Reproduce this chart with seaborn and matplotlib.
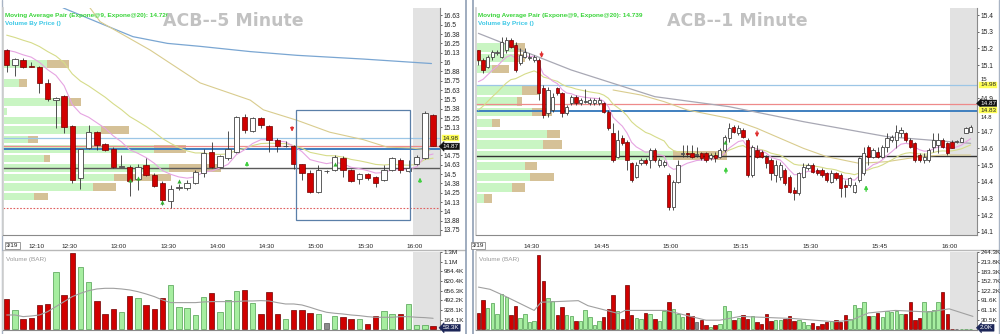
import numpy as np
import pandas as pd
import matplotlib
matplotlib.use("Agg")
import matplotlib.pyplot as plt
import matplotlib.transforms as mtransforms
from matplotlib.patches import Rectangle
from matplotlib.lines import Line2D
import seaborn as sns

# ======================= LEFT PANEL : ACB 5 minute =======================
L_open = [16.16, 15.96, 16.03, 15.945, 15.94, 15.72, 15.49, 15.54, 15.14, 14.44,
          14.85, 15.06, 14.90, 14.84, 14.60, 14.60, 14.43, 14.62, 14.49, 14.38,
          14.14, 14.31, 14.31, 14.38, 14.51, 14.80, 14.60, 14.71, 14.80, 15.27,
          15.08, 15.25, 15.14, 14.96, 14.87, 14.87, 14.63, 14.52, 14.26, 14.54,
          14.55, 14.72, 14.55, 14.43, 14.50, 14.46, 14.42, 14.55, 14.69, 14.54,
          14.64, 14.71, 15.29]
L_high = [16.17, 16.05, 16.05, 16.00, 15.95, 15.77, 15.53, 15.56, 15.15, 14.84,
          15.16, 15.08, 14.92, 14.86, 14.76, 14.62, 14.64, 14.72, 14.52, 14.40,
          14.35, 14.36, 14.42, 14.56, 14.84, 14.93, 14.76, 15.07, 15.28, 15.31,
          15.27, 15.27, 15.16, 14.98, 14.94, 14.89, 14.64, 14.55, 14.62, 14.56,
          14.75, 14.74, 14.57, 14.51, 14.51, 14.47, 14.62, 14.73, 14.71, 14.69,
          14.76, 15.34, 15.30]
L_low = [15.87, 15.81, 15.92, 15.94, 15.59, 15.48, 15.12, 15.05, 14.38, 14.30,
         14.83, 14.82, 14.81, 14.58, 14.60, 14.20, 14.29, 14.47, 14.32, 14.08,
         14.04, 14.28, 14.29, 14.36, 14.46, 14.58, 14.58, 14.69, 14.78, 15.05,
         15.06, 15.12, 14.80, 14.80, 14.86, 14.57, 14.42, 14.24, 14.24, 14.51,
         14.54, 14.46, 14.39, 14.36, 14.42, 14.33, 14.40, 14.54, 14.52, 14.53,
         14.62, 14.70, 14.87]
L_close = [15.96, 16.04, 15.94, 15.94, 15.72, 15.50, 15.52, 15.13, 14.42, 14.83,
           15.06, 14.89, 14.82, 14.60, 14.61, 14.40, 14.59, 14.49, 14.34, 14.15,
           14.30, 14.32, 14.38, 14.53, 14.78, 14.60, 14.74, 14.83, 15.27, 15.09,
           15.25, 15.16, 14.96, 14.88, 14.88, 14.63, 14.52, 14.26, 14.55, 14.54,
           14.73, 14.56, 14.40, 14.50, 14.44, 14.38, 14.55, 14.71, 14.55, 14.58,
           14.73, 15.32, 14.88]
L_volume_k = [509, 328, 170, 187, 419, 436, 973, 583, 1300, 1060,
              803, 487, 266, 345, 289, 566, 537, 419, 345, 526,
              753, 373, 356, 249, 543, 622, 294, 498, 651, 668,
              441, 260, 634, 260, 170, 328, 322, 271, 260, 102,
              226, 204, 170, 175, 96, 220, 311, 266, 266, 424,
              68, 68, 53.3]
L_volume_ma_k = [243, 243, 215, 226, 243, 300, 385, 470, 555, 611,
                 656, 685, 696, 696, 685, 668, 639, 600, 555, 498,
                 453, 453, 453, 453, 464, 470, 470, 470, 470, 481,
                 481, 487, 481, 453, 430, 430, 413, 373, 328, 289,
                 272, 260, 243, 232, 215, 204, 204, 204, 215, 215,
                 204, 198, 187]
L_ema9_start, L_ema20_start = 16.16, 16.36
L_slow1_x = [5, 7, 11.4, 15.4, 19.6, 23.6, 29.7, 35.4, 43.5, 51.8]
L_slow1_y = [16.84, 16.72, 16.52, 16.34, 16.25, 16.21, 16.14, 16.09, 16.04, 15.98]
L_slow2_x = [9.0, 10.2, 11.4, 17.5, 23.6, 29.7, 31.3, 35.4, 39.4, 43.5, 46.4, 49.2, 51.6]
L_slow2_y = [16.85, 16.72, 16.54, 16.16, 15.72, 15.49, 15.36, 15.22, 15.06, 14.96, 14.86, 14.85, 14.82]
L_vbp_price = [15.974, 15.721, 15.467, 15.341, 15.214, 15.088, 14.961, 14.834,
               14.708, 14.581, 14.454, 14.328, 14.201]
L_vbp_up = [43, 15, 65, 3, 62, 97, 24, 150, 40, 165, 110, 89, 30]
L_vbp_down = [22, 8, 12, 0, 0, 28, 10, 32, 6, 52, 57, 23, 14]
L_levels = [14.98, 14.87, 14.83, 14.585, 14.04]
L_box = (35.3, 13.89, 49.2, 15.36)
L_up_arrow_x, L_up_arrow_y = [29.3, 50.4], [14.64, 14.42]
L_dn_arrow_x, L_dn_arrow_y = [34.8], [15.10]
L_tri_x, L_tri_y = [15, 16, 19, 21, 40], [14.42, 14.44, 14.12, 14.41, 14.64]
L_price_ticks = [13.75, 13.875, 14.0, 14.125, 14.25, 14.375, 14.5, 14.625, 14.75,
                 15.125, 15.25, 15.375, 15.5, 15.625, 15.75, 15.875, 16.0, 16.125,
                 16.25, 16.375, 16.5, 16.625]
L_price_labels = ['13.75', '13.88', '14', '14.13', '14.25', '14.38', '14.5', '14.63',
                  '14.75', '15.13', '15.25', '15.38', '15.5', '15.63', '15.75', '15.88',
                  '16', '16.13', '16.25', '16.38', '16.5', '16.63']
L_price_tight = []            # labels squeezed next to price tags: (value, text, side)
L_vol_ticks = [164.1, 328.1, 492.2, 656.3, 820.4, 984.4, 1148.4, 1312.5]
L_vol_labels = ['164.1K', '328.1K', '492.2K', '656.3K', '820.4K', '984.4K', '1.1M', '1.3M']
L_time_bar = [4, 8, 14, 20, 26, 32, 38, 44, 50]
L_time_labels = ['12:10', '12:30', '13:00', '13:30', '14:00', '14:30', '15:00', '15:30', '16:00']
L_title = 'ACB--5 Minute'
L_legend = 'Moving Average Pair (Expone@9, Expone@20): 14.726'

# ======================= RIGHT PANEL : ACB 1 minute =======================
R_open = [15.19, 15.13, 15.09, 15.15, 15.17, 15.15, 15.19, 15.25, 15.22, 15.11,
          15.15, 15.14, 15.13, 15.13, 14.96, 14.81, 14.83, 14.96, 14.93, 14.81,
          14.87, 14.91, 14.87, 14.88, 14.87, 14.87, 14.87, 14.87, 14.82, 14.69,
          14.55, 14.66, 14.64, 14.51, 14.43, 14.51, 14.53, 14.53, 14.59, 14.50,
          14.50, 14.44, 14.25, 14.40, 14.565, 14.57, 14.57, 14.56, 14.57, 14.57,
          14.54, 14.56, 14.55, 14.59, 14.66, 14.73, 14.69, 14.71, 14.65, 14.44,
          14.59, 14.58, 14.55, 14.53, 14.44, 14.43, 14.47, 14.43, 14.35, 14.33,
          14.43, 14.48, 14.50, 14.47, 14.47, 14.45, 14.40, 14.45, 14.44, 14.38,
          14.38, 14.34, 14.41, 14.45, 14.61, 14.55, 14.58, 14.55, 14.61, 14.65,
          14.65, 14.69, 14.69, 14.65, 14.63, 14.56, 14.53, 14.53, 14.61, 14.62,
          14.65, 14.63, 14.64, 14.64, 14.64, 14.69, 14.70]
R_high = [15.19, 15.14, 15.16, 15.19, 15.19, 15.27, 15.27, 15.26, 15.24, 15.20,
          15.20, 15.17, 15.16, 15.14, 14.98, 14.97, 14.93, 14.97, 14.94, 14.86,
          14.92, 14.92, 14.90, 14.955, 14.90, 14.90, 14.91, 14.88, 14.83, 14.75,
          14.71, 14.68, 14.65, 14.52, 14.52, 14.54, 14.54, 14.60, 14.60, 14.54,
          14.53, 14.45, 14.41, 14.53, 14.62, 14.62, 14.62, 14.61, 14.58, 14.58,
          14.57, 14.58, 14.60, 14.68, 14.75, 14.74, 14.74, 14.72, 14.66, 14.62,
          14.62, 14.59, 14.56, 14.54, 14.53, 14.52, 14.48, 14.44, 14.37, 14.46,
          14.51, 14.51, 14.51, 14.48, 14.48, 14.46, 14.47, 14.46, 14.45, 14.41,
          14.43, 14.40, 14.55, 14.61, 14.62, 14.60, 14.61, 14.62, 14.69, 14.68,
          14.74, 14.73, 14.70, 14.66, 14.64, 14.57, 14.57, 14.60, 14.69, 14.69,
          14.66, 14.64, 14.65, 14.65, 14.67, 14.73, 14.74]
R_low = [15.10, 15.05, 15.08, 15.13, 15.16, 15.14, 15.17, 15.20, 15.06, 15.10,
         15.14, 15.13, 15.12, 14.89, 14.78, 14.79, 14.82, 14.92, 14.79, 14.80,
         14.86, 14.86, 14.86, 14.87, 14.86, 14.86, 14.86, 14.81, 14.71, 14.52,
         14.54, 14.62, 14.47, 14.40, 14.42, 14.50, 14.50, 14.48, 14.52, 14.49,
         14.49, 14.23, 14.23, 14.39, 14.55, 14.55, 14.54, 14.55, 14.53, 14.52,
         14.53, 14.52, 14.54, 14.58, 14.64, 14.69, 14.68, 14.66, 14.43, 14.43,
         14.54, 14.54, 14.48, 14.41, 14.40, 14.41, 14.38, 14.33, 14.29, 14.32,
         14.42, 14.47, 14.45, 14.44, 14.43, 14.40, 14.39, 14.41, 14.31, 14.31,
         14.37, 14.33, 14.40, 14.44, 14.50, 14.54, 14.54, 14.54, 14.58, 14.64,
         14.60, 14.67, 14.64, 14.60, 14.52, 14.52, 14.51, 14.52, 14.58, 14.57,
         14.60, 14.56, 14.60, 14.63, 14.64, 14.69, 14.70]
R_close = [15.13, 15.07, 15.15, 15.18, 15.18, 15.24, 15.25, 15.21, 15.07, 15.16,
           15.18, 15.15, 15.15, 14.93, 14.80, 14.95, 14.91, 14.93, 14.81, 14.85,
           14.91, 14.87, 14.89, 14.885, 14.89, 14.89, 14.89, 14.82, 14.72, 14.53,
           14.65, 14.63, 14.53, 14.41, 14.50, 14.53, 14.51, 14.59, 14.53, 14.53,
           14.52, 14.25, 14.40, 14.50, 14.57, 14.565, 14.55, 14.56, 14.54, 14.53,
           14.56, 14.54, 14.59, 14.67, 14.72, 14.70, 14.72, 14.67, 14.44, 14.61,
           14.55, 14.55, 14.51, 14.45, 14.50, 14.50, 14.39, 14.34, 14.33, 14.45,
           14.49, 14.50, 14.46, 14.45, 14.44, 14.41, 14.45, 14.42, 14.36, 14.37,
           14.42, 14.38, 14.54, 14.57, 14.55, 14.59, 14.55, 14.61, 14.66, 14.67,
           14.70, 14.71, 14.65, 14.61, 14.53, 14.53, 14.55, 14.59, 14.65, 14.65,
           14.61, 14.57, 14.60, 14.64, 14.66, 14.72, 14.73]
R_volume_k = [51.8, 93.2, 68.3, 82.8, 47.6, 111.8, 101.4, 44.5, 75.6, 37.3,
              49.7, 23.8, 25.9, 235.0, 153.2, 98.3, 91.1, 46.6, 70.4, 44.5,
              42.4, 26.9, 25.9, 60.0, 39.3, 13.5, 26.9, 39.3, 65.2, 109.7,
              56.9, 34.2, 139.7, 44.5, 36.2, 34.2, 51.8, 49.7, 34.2, 26.9,
              56.9, 85.9, 65.2, 49.7, 39.3, 51.8, 41.4, 21.7, 31.1, 13.5,
              6.2, 12.4, 16.6, 72.5, 56.9, 29.0, 37.3, 44.5, 32.1, 42.4,
              23.8, 16.6, 49.7, 26.9, 31.1, 29.0, 34.2, 41.4, 26.9, 31.1,
              23.8, 13.5, 20.7, 10.4, 15.5, 22.8, 25.9, 29.0, 21.7, 46.6,
              34.2, 78.7, 67.3, 88.0, 42.4, 41.4, 51.8, 39.3, 56.9, 54.9,
              58.0, 49.7, 49.7, 85.9, 29.0, 37.3, 85.9, 58.0, 60.0, 85.9,
              117.0, 47.6, 2.1, 2.0, 2.0, 2.0, 2.0]
R_volume_ma_x = [0, 2.5, 5.5, 12, 13.5, 21.5, 23.6, 30.2, 31.6, 40.4, 49, 52, 56.4,
                 68, 76.7, 80.3, 84, 89.8, 97, 101.4, 106.5]
R_volume_ma_k = [134, 127, 107, 60, 86, 91, 75, 50, 60, 60, 29, 29, 41,
                 34, 24, 29, 52, 60, 55, 65, 41]
R_ema9_start, R_ema20_start = 15.00, 14.83
R_slow1_x = [0, 20, 38, 54, 70, 88, 106]
R_slow1_y = [15.29, 15.07, 14.91, 14.85, 14.76, 14.67, 14.63]
R_slow2_x = [29, 35, 40, 45, 54, 60, 65, 70, 75, 82, 88, 95, 100, 106]
R_slow2_y = [14.95, 14.92, 14.88, 14.83, 14.78, 14.72, 14.66, 14.60, 14.55, 14.51,
             14.52, 14.55, 14.56, 14.56]
R_vbp_price = [15.206, 15.141, 15.077, 14.947, 14.882, 14.818, 14.753, 14.688,
               14.623, 14.558, 14.494, 14.429, 14.364, 14.299]
R_vbp_up = [38, 38, 15, 45, 40, 55, 15, 70, 66, 196, 48, 53, 35, 7]
R_vbp_down = [10, 10, 17, 17, 5, 20, 8, 13, 19, 54, 12, 24, 13, 8]
R_levels = [14.98, 14.865, 14.825, 14.555]
R_up_arrow_x, R_up_arrow_y = [53.3, 83.5], [14.47, 14.36]
R_dn_arrow_x, R_dn_arrow_y = [13.6, 60.0], [15.16, 14.685]
R_tri_x, R_tri_y = [53], [14.64]
R_price_ticks = [14.1, 14.2, 14.3, 14.4, 14.5, 14.6, 14.7, 14.9, 15.1, 15.2, 15.3, 15.4]
R_price_labels = ['14.1', '14.2', '14.3', '14.4', '14.5', '14.6', '14.7', '14.9',
                  '15.1', '15.2', '15.3', '15.4']
R_price_tight = [(15.0, '15', 'bottom'), (14.8, '14.8', 'top')]
R_vol_ticks = [30.5, 61.1, 91.6, 122.2, 152.7, 183.3, 213.8, 244.3]
R_vol_labels = ['30.5K', '61.1K', '91.6K', '122.2K', '152.7K', '183.3K', '213.8K', '244.3K']
R_time_bar = [12, 27, 42, 57, 72, 87, 102]
R_time_labels = ['14:30', '14:45', '15:00', '15:15', '15:30', '15:45', '16:00']
R_title = 'ACB--1 Minute'
R_legend = 'Moving Average Pair (Expone@9, Expone@20): 14.739'

# ======================= drawing =======================
sns.set_theme(style="white")
plt.rcParams["font.family"] = ["Liberation Sans", "DejaVu Sans"]

W, H = 1000, 334
fig = plt.figure(figsize=(W / 100, H / 100), dpi=100)
fig.patch.set_facecolor("white")

RED, RED_E = "#d10000", "#6e0000"
VGREEN, VGREEN_E = "#a6eea0", "#4e9e4e"
VBP_G, VBP_T = "#c9f5c3", "#d5c197"
SHADE = "#e2e2e2"
TXT = "#222222"


def rect(x0, y0, x1, y1):
    return [x0 / W, 1 - y1 / H, (x1 - x0) / W, (y1 - y0) / H]


def ema(close, seed, span):
    a = 2.0 / (span + 1)
    out = [seed]
    for c in close[1:]:
        out.append(out[-1] + a * (c - out[-1]))
    return np.array(out)


def draw_panel(c):
    px0, px1 = c["px"]
    O, Hh, Lo, C = map(np.asarray, (c["open"], c["high"], c["low"], c["close"]))
    n = len(O)
    x = np.arange(n)
    xlim = c["xlim"]
    ylim = c["ylim"]

    # ---- volume-by-price layer (behind) ----
    axb = fig.add_axes(rect(px0, 8, px1, 235), zorder=1)
    axb.set_xlim(0, px1 - px0)
    axb.set_ylim(*ylim)
    axb.axis("off")
    up = np.asarray(c["vbp_up"], float)
    dn = np.asarray(c["vbp_down"], float)
    axb.barh(c["vbp_price"], up, left=1, height=c["vbp_h"], color=VBP_G, lw=0)
    axb.barh(c["vbp_price"], dn, left=1 + up, height=c["vbp_h"], color=VBP_T, lw=0)

    # ---- price axes ----
    ax = fig.add_axes(rect(px0, 8, px1, 235), zorder=2)
    ax.set_facecolor("none")
    ax.set_xlim(*xlim)
    ax.set_ylim(*ylim)
    ax.axvspan(c["shade"], xlim[1], color=SHADE, lw=0, zorder=0)

    for lv, col, lw, ls in c["levels"]:
        ax.axhline(lv, color=col, lw=lw, ls=ls, zorder=1.5)

    # moving averages
    e9 = ema(C, c["ema9_start"], 9)
    e20 = ema(C, c["ema20_start"], 20)
    sns.lineplot(x=c["slow1_x"], y=c["slow1_y"], ax=ax, color=c["slow1_col"], lw=0.9,
                 legend=False, estimator=None, zorder=2)
    sns.lineplot(x=c["slow2_x"], y=c["slow2_y"], ax=ax, color="#d9cc8e", lw=0.8,
                 legend=False, estimator=None, zorder=2)
    sns.lineplot(x=x, y=e20, ax=ax, color="#d6dc8a", lw=0.8, legend=False,
                 estimator=None, zorder=2)
    sns.lineplot(x=x, y=e9, ax=ax, color="#e6a4e2", lw=0.8, legend=False,
                 estimator=None, zorder=2)

    # candles
    ax.vlines(x, Lo, Hh, color="#333333", lw=0.6, zorder=3)
    bottom = np.minimum(O, C)
    height = np.maximum(np.abs(C - O), 0.004)
    upm = C >= O
    ax.bar(x[upm], height[upm], bottom=bottom[upm], width=c["cw"], color="white",
           edgecolor="#444444", lw=0.6, zorder=4)
    ax.bar(x[~upm], height[~upm], bottom=bottom[~upm], width=c["cw"], color=RED,
           edgecolor=RED_E, lw=0.5, zorder=4)

    # signals
    for xi, yi in zip(c["up_x"], c["up_y"]):
        ax.annotate("", xy=(xi, yi + c["arr"]), xytext=(xi, yi - c["arr"]),
                    arrowprops=dict(arrowstyle="-|>", color="#3fcf3f", lw=0.9,
                                    mutation_scale=5), zorder=5)
    for xi, yi in zip(c["dn_x"], c["dn_y"]):
        ax.annotate("", xy=(xi, yi - c["arr"]), xytext=(xi, yi + c["arr"]),
                    arrowprops=dict(arrowstyle="-|>", color="#e03030", lw=0.9,
                                    mutation_scale=5), zorder=5)
    ax.scatter(c["tri_x"], c["tri_y"], marker="^", s=9, color="#33b033", zorder=6, lw=0)

    if c.get("box"):
        bx0, by0, bx1, by1 = c["box"]
        ax.add_patch(Rectangle((bx0, by0), bx1 - bx0, by1 - by0, fill=False,
                               ec="#5a7fa8", lw=0.9, zorder=6))

    # axes cosmetics
    ax.yaxis.tick_right()
    ax.set_yticks(c["pticks"], c["plabels"])
    ax.tick_params(axis="y", labelsize=4.8, length=1.5, pad=1.2, colors=TXT, width=0.5)
    bt = mtransforms.blended_transform_factory(ax.transAxes, ax.transData)
    for val, txt, side in c["ptight"]:
        ax.text(1.0075, val, txt, transform=bt, fontsize=4.2, color=TXT,
                va=side, ha="left", clip_on=False, zorder=2)
    ax.set_xticks(np.asarray(c["tbar"]) + c["toff"], c["tlabels"])
    ax.set_xticks(np.asarray(c["minor"]) + c["toff"], minor=True)
    ax.tick_params(axis="x", which="major", labelsize=4.6, length=5, direction="inout",
                   pad=4, colors=TXT, width=0.6)
    ax.tick_params(axis="x", which="minor", length=2.5, direction="inout", width=0.5,
                   color="#555555")
    ax.set_xlabel("")
    ax.set_ylabel("")
    ax.spines["top"].set_visible(False)
    ax.spines["left"].set_color("#d0d0d0")
    for s in ("right", "bottom"):
        ax.spines[s].set_color("#8a8a8a")
        ax.spines[s].set_linewidth(0.8)
    ax.grid(False)

    # date tag
    t_date = c["date_bar"] + c["toff"]
    ax.text(t_date - 0.25, -0.035, "3/19",
            transform=mtransforms.blended_transform_factory(ax.transData, ax.transAxes),
            ha="right", va="top", fontsize=4.6, color=TXT,
            bbox=dict(boxstyle="square,pad=0.15", fc="white", ec="#777777", lw=0.5))

    # price tags
    for val, fc, tc, style in c["tags"]:
        ax.text(1.006, val, f"{val:.2f}", transform=bt, fontsize=4.6, color=tc,
                va="center", ha="left", zorder=20, clip_on=False,
                bbox=dict(boxstyle=style, fc=fc, ec=fc, lw=0.3))

    # ---- volume axes ----
    axv = fig.add_axes(rect(px0, 252, px1, 330), zorder=2)
    axv.set_facecolor("white")
    axv.axvspan(c["shade"], xlim[1], color=SHADE, lw=0, zorder=0)
    direction = np.where(C > O, "up", np.where(C < O, "down", "flat"))
    vdf = pd.DataFrame({"x": x, "vol": c["vol"], "dir": direction})
    sns.barplot(data=vdf, x="x", y="vol", hue="dir",
                palette={"up": VGREEN, "down": RED, "flat": "#8c8c8c"},
                native_scale=True, dodge=False, width=c["vw"], saturation=1,
                errorbar=None, legend=False, ax=axv, zorder=2)
    edge_map = {VGREEN: VGREEN_E, RED: RED_E, "#8c8c8c": "#555555"}
    for p in axv.patches:
        fc = matplotlib.colors.to_hex(p.get_facecolor())
        if fc in edge_map:
            p.set_edgecolor(edge_map[fc])
            p.set_linewidth(0.5)
    sns.lineplot(x=c["vma_x"], y=c["vma_y"], ax=axv, color="#a0a0a0", lw=0.8,
                 legend=False, estimator=None, zorder=3)
    axv.set_xlim(*xlim)
    axv.set_ylim(*c["vylim"])
    axv.yaxis.tick_right()
    axv.set_yticks(c["vticks"], c["vlabels"])
    axv.tick_params(axis="y", labelsize=4.6, length=1.5, pad=1.2, colors=TXT, width=0.5)
    axv.set_xticks([])
    axv.set_xlabel("")
    axv.set_ylabel("")
    axv.spines["top"].set_visible(False)
    axv.spines["left"].set_color("#d0d0d0")
    for s in ("right", "bottom"):
        axv.spines[s].set_color("#8a8a8a")
        axv.spines[s].set_linewidth(0.8)
    axv.text(0.006, 0.9, "Volume (BAR)", transform=axv.transAxes, fontsize=4.6,
             color="#9a9a9a", va="center", ha="left")
    bvt = mtransforms.blended_transform_factory(axv.transAxes, axv.transData)
    axv.text(1.006, c["vylim"][1] * 0.02, c["vtag"], transform=bvt, fontsize=4.6,
             color="white", va="center", ha="left", zorder=20, clip_on=False,
             bbox=dict(boxstyle="larrow,pad=0.15", fc="#1b2557", ec="#1b2557", lw=0.3))

    # ---- titles / legend ----
    fig.text((px0 + 2) / W, 1 - 15 / H, c["legend"], fontsize=4.6, color="#3ad43a",
             va="center", ha="left", fontweight="bold")
    fig.text((px0 + 2) / W, 1 - 23.5 / H, "Volume By Price ()", fontsize=4.6,
             color="#3cc8e6", va="center", ha="left", fontweight="bold")
    fig.text(c["title_x"] / W, 1 - 21 / H, c["title"], fontsize=12.5, color="#c2c2c2",
             va="center", ha="left", fontweight="bold", family="DejaVu Sans")

    # separator between time axis and volume
    fig.add_artist(Line2D([px0 / W, (px1 + 25) / W], [1 - 250 / H, 1 - 250 / H],
                          color="#b8b8b8", lw=1.0))


left_cfg = dict(
    px=(3, 440), open=L_open, high=L_high, low=L_low, close=L_close,
    xlim=(-0.45, 52.84), ylim=(13.683, 16.724), shade=49.55,
    vbp_price=L_vbp_price, vbp_up=L_vbp_up, vbp_down=L_vbp_down, vbp_h=0.10,
    levels=[(L_levels[0], "#9cc6e6", 0.9, "-"), (L_levels[1], "#ee8a8a", 0.9, "-"),
            (L_levels[2], "#3f7fbf", 1.4, "-"), (L_levels[3], "#5a5a5a", 1.0, "-"),
            (L_levels[4], "#e06060", 0.8, (0, (1.5, 1.5)))],
    ema9_start=L_ema9_start, ema20_start=L_ema20_start,
    slow1_x=L_slow1_x, slow1_y=L_slow1_y, slow1_col="#7aa6d2",
    slow2_x=L_slow2_x, slow2_y=L_slow2_y,
    cw=0.66, vw=0.68, arr=0.07,
    up_x=L_up_arrow_x, up_y=L_up_arrow_y, dn_x=L_dn_arrow_x, dn_y=L_dn_arrow_y,
    tri_x=L_tri_x, tri_y=L_tri_y, box=L_box,
    pticks=L_price_ticks, plabels=L_price_labels, ptight=L_price_tight,
    tbar=L_time_bar, tlabels=L_time_labels, toff=-0.3, minor=list(range(0, 53)),
    date_bar=2,
    tags=[(14.98, "#ffff55", "#222222", "square,pad=0.12"),
          (14.87, "#101010", "white", "larrow,pad=0.12")],
    vol=L_volume_k, vma_x=list(range(53)), vma_y=L_volume_ma_k,
    vylim=(-12, 1312.5), vticks=L_vol_ticks, vlabels=L_vol_labels, vtag="53.3K",
    legend=L_legend, title=L_title, title_x=163,
)

right_cfg = dict(
    px=(476, 977), open=R_open, high=R_high, low=R_low, close=R_close,
    xlim=(-0.52, 107.38), ylim=(14.08, 15.442), shade=101.6,
    vbp_price=R_vbp_price, vbp_up=R_vbp_up, vbp_down=R_vbp_down, vbp_h=0.05,
    levels=[(R_levels[0], "#9cc6e6", 0.9, "-"), (R_levels[1], "#ee8a8a", 0.9, "-"),
            (R_levels[2], "#3f7fbf", 1.4, "-"), (R_levels[3], "#333333", 1.0, "-")],
    ema9_start=R_ema9_start, ema20_start=R_ema20_start,
    slow1_x=R_slow1_x, slow1_y=R_slow1_y, slow1_col="#a8a8b4",
    slow2_x=R_slow2_x, slow2_y=R_slow2_y,
    cw=0.7, vw=0.74, arr=0.035,
    up_x=R_up_arrow_x, up_y=R_up_arrow_y, dn_x=R_dn_arrow_x, dn_y=R_dn_arrow_y,
    tri_x=R_tri_x, tri_y=R_tri_y, box=None,
    pticks=R_price_ticks, plabels=R_price_labels, ptight=R_price_tight,
    tbar=R_time_bar, tlabels=R_time_labels, toff=-0.5, minor=list(range(0, 107, 2)),
    date_bar=2,
    tags=[(14.98, "#ffff55", "#222222", "square,pad=0.12"),
          (14.87, "#101010", "white", "larrow,pad=0.12"),
          (14.83, "#ffff55", "#222222", "square,pad=0.12")],
    vol=R_volume_k, vma_x=R_volume_ma_x, vma_y=R_volume_ma_k,
    vylim=(-2.2, 245.5), vticks=R_vol_ticks, vlabels=R_vol_labels, vtag="2.0K",
    legend=R_legend, title=R_title, title_x=667,
)

draw_panel(left_cfg)
draw_panel(right_cfg)

# panel separators / frame
for xx in (466, 473):
    fig.add_artist(Line2D([xx / W, xx / W], [0, 1], color="#8596ad", lw=1.1))
fig.add_artist(Line2D([1.5 / W, 1.5 / W], [0, 1], color="#a9b4c4", lw=1.0))
fig.add_artist(Line2D([998.5 / W, 998.5 / W], [0, 1], color="#a9b4c4", lw=1.0))

fig.savefig("out.png", dpi=100, facecolor="white")
